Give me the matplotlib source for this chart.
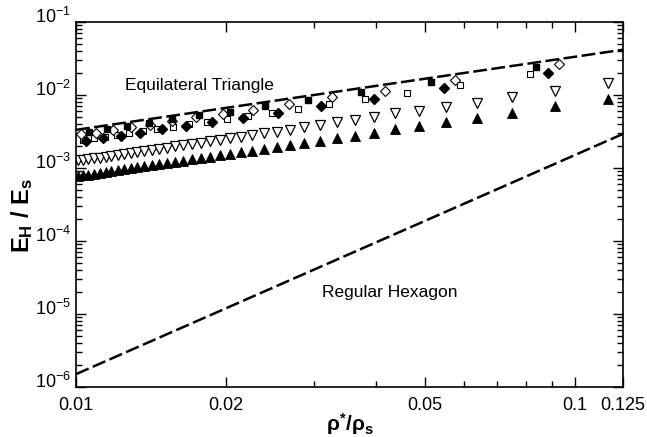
import math

import matplotlib
matplotlib.use("Agg")
import matplotlib.pyplot as plt
import matplotlib.transforms as mtransforms
from matplotlib.ticker import FixedLocator, FuncFormatter, LogLocator, NullFormatter

plt.rcParams["font.family"] = ["Liberation Sans", "DejaVu Sans"]
plt.rcParams["mathtext.fontset"] = "custom"
plt.rcParams["mathtext.rm"] = "Liberation Sans"
plt.rcParams["mathtext.bf"] = "Liberation Sans:bold"
plt.rcParams["mathtext.it"] = "Liberation Sans:italic"

# analytical bounds (dashed lines)
line_x = [0.01, 0.125]
triangle_line_y = [3.33e-3, 4.17e-2]
hexagon_line_y = [1.5e-6, 2.93e-3]

# triangle markers share the same densities
tri_x = [0.01008, 0.01033, 0.01059, 0.01086, 0.01115, 0.01146, 0.01178, 0.01212,
         0.01248, 0.01287, 0.01327, 0.01371, 0.01417, 0.01466, 0.01520, 0.01577,
         0.01639, 0.01705, 0.01777, 0.01856, 0.01942, 0.02036, 0.02140, 0.02255,
         0.02384, 0.02527, 0.0269, 0.0287, 0.0309, 0.0333, 0.0362, 0.0396,
         0.0437, 0.0488, 0.0552, 0.0636, 0.0750, 0.0913, 0.1168]
open_tri_y = [1.27e-3, 1.29e-3, 1.32e-3, 1.36e-3, 1.39e-3, 1.43e-3, 1.47e-3, 1.52e-3,
              1.56e-3, 1.61e-3, 1.66e-3, 1.71e-3, 1.77e-3, 1.83e-3, 1.90e-3, 1.97e-3,
              2.05e-3, 2.13e-3, 2.22e-3, 2.32e-3, 2.43e-3, 2.55e-3, 2.67e-3, 2.82e-3,
              2.98e-3, 3.16e-3, 3.33e-3, 3.60e-3, 3.88e-3, 4.22e-3, 4.55e-3, 4.95e-3,
              5.58e-3, 6.05e-3, 6.80e-3, 7.85e-3, 9.30e-3, 1.15e-2, 1.45e-2]
filled_tri_y = [7.75e-4, 7.9e-4, 8.1e-4, 8.3e-4, 8.55e-4, 8.8e-4, 9.0e-4, 9.3e-4,
                9.6e-4, 9.85e-4, 1.02e-3, 1.05e-3, 1.09e-3, 1.12e-3, 1.17e-3, 1.21e-3,
                1.26e-3, 1.31e-3, 1.36e-3, 1.42e-3, 1.49e-3, 1.56e-3, 1.64e-3, 1.73e-3,
                1.83e-3, 1.94e-3, 2.07e-3, 2.19e-3, 2.37e-3, 2.55e-3, 2.76e-3, 3.04e-3,
                3.38e-3, 3.75e-3, 4.26e-3, 4.85e-3, 5.74e-3, 7.05e-3, 8.92e-3]

filled_sq_x = [0.01064, 0.01156, 0.01266, 0.01399, 0.0156, 0.01767, 0.02033, 0.02392,
               0.02915, 0.0372, 0.0515, 0.0835]
filled_sq_y = [3.14e-3, 3.42e-3, 3.79e-3, 4.17e-3, 4.65e-3, 5.32e-3, 5.91e-3, 7.13e-3,
               8.55e-3, 1.10e-2, 1.51e-2, 2.44e-2]

open_dia_x = [0.01024, 0.01099, 0.01186, 0.01289, 0.0141, 0.01558, 0.01739, 0.01969,
              0.02268, 0.02674, 0.03257, 0.0417, 0.0575, 0.0931]
open_dia_y = [2.92e-3, 2.99e-3, 3.32e-3, 3.62e-3, 3.88e-3, 4.35e-3, 5.0e-3, 5.49e-3,
              6.23e-3, 7.46e-3, 9.29e-3, 1.145e-2, 1.60e-2, 2.63e-2]

open_sq_x = [0.01032, 0.01085, 0.01143, 0.01208, 0.0128, 0.01362, 0.01456, 0.01563,
             0.01686, 0.01832, 0.02004, 0.02212, 0.02469, 0.02793, 0.03215, 0.0379,
             0.0461, 0.0588, 0.0813]
open_sq_y = [2.44e-3, 2.55e-3, 2.68e-3, 2.85e-3, 3.0e-3, 3.17e-3, 3.39e-3, 3.65e-3,
             3.97e-3, 4.23e-3, 4.65e-3, 5.15e-3, 5.73e-3, 6.49e-3, 7.46e-3, 8.73e-3,
             1.076e-2, 1.37e-2, 1.92e-2]

filled_dia_x = [0.01049, 0.01133, 0.0123, 0.01346, 0.01486, 0.01658, 0.01876, 0.0216,
                0.02545, 0.03096, 0.0395, 0.0546, 0.0885]
filled_dia_y = [2.37e-3, 2.56e-3, 2.74e-3, 3.05e-3, 3.39e-3, 3.76e-3, 4.23e-3, 4.89e-3,
                5.73e-3, 7.06e-3, 8.9e-3, 1.235e-2, 2.02e-2]

x_ticks = [0.01, 0.02, 0.05, 0.1, 0.125]
x_tick_labels = ["0.01", "0.02", "0.05", "0.1", "0.125"]
x_minor = [0.03, 0.04, 0.06, 0.07, 0.08, 0.09]

fig = plt.figure(figsize=(6.47, 4.37), dpi=100)
ax = fig.add_axes([0.1175, 0.1144, 0.8454, 0.8353])

dash = dict(color="black", lw=1.8, dashes=(5.5, 1.8))
ax.plot(line_x, triangle_line_y, **dash)
ax.plot(line_x, hexagon_line_y, **dash)

ax.plot(tri_x, open_tri_y, ls="none", marker="v", ms=7.5, mfc="white", mec="black", mew=0.9)
ax.plot(tri_x, filled_tri_y, ls="none", marker="^", ms=7.5, mfc="black", mec="black", mew=0.6)
ax.plot(open_sq_x, open_sq_y, ls="none", marker="s", ms=4.5, mfc="white", mec="black", mew=0.8)
ax.plot(open_dia_x, open_dia_y, ls="none", marker="D", ms=5, mfc="white", mec="black", mew=0.8)
ax.plot(filled_dia_x, filled_dia_y, ls="none", marker="D", ms=5, mfc="black", mec="black")
ax.plot(filled_sq_x, filled_sq_y, ls="none", marker="s", ms=4.5, mfc="black", mec="black")

ax.set_xscale("log")
ax.set_yscale("log")
ax.set_xlim(0.01, 0.125)
ax.set_ylim(1e-6, 1e-1)

ax.xaxis.set_major_locator(FixedLocator(x_ticks))
ax.xaxis.set_major_formatter(FuncFormatter(
    lambda v, p: x_tick_labels[x_ticks.index(v)] if v in x_ticks else ""))
ax.xaxis.set_minor_locator(FixedLocator(x_minor))
ax.xaxis.set_minor_formatter(NullFormatter())

ax.yaxis.set_major_locator(LogLocator(base=10, numticks=10))
ax.yaxis.set_minor_locator(LogLocator(base=10, subs=range(2, 10), numticks=20))
ax.yaxis.set_minor_formatter(NullFormatter())
ax.yaxis.set_major_formatter(FuncFormatter(
    lambda v, p: r"$\mathregular{10^{%d}}$" % round(math.log10(v))))

ax.tick_params(which="both", direction="in", top=True, right=True, labelsize=13)
ax.tick_params(which="major", length=7, width=1)
ax.tick_params(which="minor", length=4, width=1)
ax.tick_params(axis="x", pad=7)
for s in ax.spines.values():
    s.set_linewidth(1.2)

# y tick labels sit a little above their ticks in the original
lift = mtransforms.ScaledTranslation(0, 5 / 72, fig.dpi_scale_trans)
for tick in ax.yaxis.get_major_ticks():
    tick.label1.set_transform(tick.label1.get_transform() + lift)

ax.text(0.01254, 1.33e-2, "Equilateral Triangle", fontsize=12.5, va="center", ha="left")
ax.text(0.03113, 2.0e-5, "Regular Hexagon", fontsize=12.5, va="center", ha="left")

ax.set_xlabel(r"$\mathbf{\rho^{*}/\rho_s}$", fontsize=15)
ax.xaxis.set_label_coords(0.5, -0.065)
ax.set_ylabel(r"$\mathbf{E_H\ /\ E_s}$", fontsize=17)
ax.yaxis.set_label_coords(-0.075, 0.47)

fig.savefig("out.png", dpi=100)
